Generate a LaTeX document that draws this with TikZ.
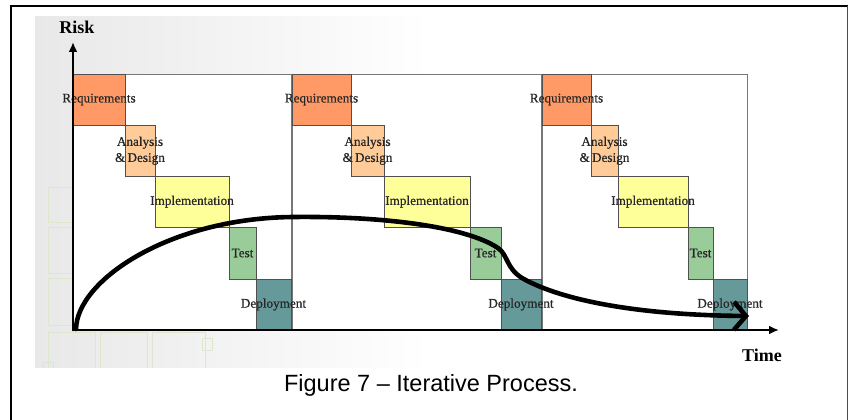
\documentclass[tikz,border=0pt]{standalone}
\usepackage{fontspec}
\setmainfont{Liberation Serif}
\newfontfamily\capfont{Liberation Sans}
\newfontfamily\labfont[FakeBold=0.5]{Liberation Serif}
\usetikzlibrary{arrows.meta}

\definecolor{reqcol}{HTML}{FF9966}
\definecolor{anacol}{HTML}{FFCC99}
\definecolor{impcol}{HTML}{FFFF99}
\definecolor{testcol}{HTML}{99CC99}
\definecolor{depcol}{HTML}{669999}
\definecolor{edgecol}{HTML}{505050}
\definecolor{itercol}{HTML}{777777}
\definecolor{gridcol}{HTML}{DDE7CE}

% one phase rectangle: name, x1, x2, y1, y2, fill colour
\newcommand\phasebox[6]{%
  \node[phase, fill=#6, minimum width={(#3-#2)*1pt}, minimum height={(#5-#4)*1pt}]
    (#1) at ({(#2+#3)/2},{(#4+#5)/2}) {};}
% one iteration frame: name, x1, x2
\newcommand\iterbox[3]{%
  \node[iterframe, minimum width={(#3-#2)*1pt}, minimum height=256pt]
    (#1) at ({(#2+#3)/2},202) {};}

\begin{document}
\begin{tikzpicture}[x=1pt, y=-1pt,
  phase/.style={draw=edgecol, line width=0.7pt, inner sep=0pt, outer sep=0pt},
  iterframe/.style={draw=itercol, fill=white, line width=0.8pt, inner sep=0pt, outer sep=0pt},
  lab/.style={font=\labfont\fontsize{13.2}{16}\selectfont, text=black!85, inner sep=0pt, align=center},
  axislabel/.style={font=\fontsize{18}{20}\selectfont\bfseries, inner sep=0pt},
  axis/.style={line width=2.2pt, -{Latex[length=10pt,width=9pt]}},
  riskcurve/.style={line width=4.6pt, line cap=round, line join=round,
    -{Straight Barb[length=12pt,width=28pt,line width=4.6pt]}},
  grid/.style={draw=gridcol, line width=0.6pt}]

\useasboundingbox (0,0) rectangle (852,420);

% faded photo backdrop
\shade[left color=black!9, right color=white] (35,17) rectangle (430,367);
\begin{scope}
  \clip (35,17) rectangle (400,367);
  \draw[grid] (48,187) rectangle (95,222);
  \draw[grid] (48,227) rectangle (95,273);
  \draw[grid] (100,227) rectangle (147,273);
  \draw[grid] (77,224) rectangle (88,234);
  \draw[grid] (48,278) rectangle (95,325);
  \draw[grid] (92,310) rectangle (103,320);
  \draw[grid] (48,332) rectangle (95,372);
  \draw[grid] (100,332) rectangle (147,372);
  \draw[grid] (152,332) rectangle (205,372);
  \draw[grid] (202,338) rectangle (212,350);
  \draw[grid] (43,362) rectangle (53,372);
\end{scope}

% page frame
\draw[line width=1.4pt] (11,421) -- (11,6.5);
\draw[line width=2pt] (10.3,6.5) -- (847.5,6.5);
\draw[line width=1pt, black!70] (847,6.5) -- (847,421);

% iteration frames
\iterbox{it1}{73}{291}
\iterbox{it2}{292}{541}
\iterbox{it3}{542}{747}

% iteration 1
\phasebox{req1}{73}{125}{74}{125}{reqcol}
\phasebox{ana1}{125}{155}{125}{176.5}{anacol}
\phasebox{imp1}{155}{229}{176.5}{227}{impcol}
\phasebox{tst1}{229}{256}{227}{279}{testcol}
\phasebox{dep1}{256}{291}{279}{330}{depcol}
% iteration 2
\phasebox{req2}{292}{351}{74}{125}{reqcol}
\phasebox{ana2}{351}{384}{125}{176.5}{anacol}
\phasebox{imp2}{384}{470}{176.5}{227}{impcol}
\phasebox{tst2}{470}{501}{227}{279}{testcol}
\phasebox{dep2}{501}{541}{279}{330}{depcol}
% iteration 3
\phasebox{req3}{542}{591}{74}{125}{reqcol}
\phasebox{ana3}{591}{618}{125}{176.5}{anacol}
\phasebox{imp3}{618}{688}{176.5}{227}{impcol}
\phasebox{tst3}{688}{713}{227}{279}{testcol}
\phasebox{dep3}{713}{747}{279}{330}{depcol}

% phase labels
\foreach \i in {1,2,3} {
  \node[lab] (lreq\i) at (req\i) {Requirements};
  \node[lab] (lana\i) at (ana\i) {Analysis\\\&\,Design};
  \node[lab] (limp\i) at (imp\i) {Implementation};
  \node[lab] (ltst\i) at (tst\i) {Test};
  \node[lab] (ldep\i) at (dep\i) {Deployment};
}

% axes
\coordinate (orig) at (73,330);
\coordinate (ytop) at (73,42);
\coordinate (xend) at (779,330);
\draw[axis] ([yshift=-1.1pt]orig) -- (ytop);
\draw[axis] ([xshift=-1.1pt]orig) -- (xend);
\node[axislabel] (risk) at (77,27) {Risk};
\node[axislabel] (time) at (762,355) {Time};

% risk curve: steep rise, long plateau, drop-off towards the last release
\coordinate (cstart) at (76,329);
\coordinate (cpeak) at (293,217);
\coordinate (cbend) at (498,248);
\coordinate (ckink) at (522,278);
\coordinate (cend) at (749,316);
\draw[riskcurve] (cstart) .. controls (77,280) and (170,218) .. (cpeak)
  .. controls (380,216) and (465,226) .. (cbend)
  .. controls (508,255) and (506,268) .. (ckink)
  .. controls (555,297) and (625,315) .. (cend);

% caption
\node[font=\capfont\fontsize{23.5}{26}\selectfont, inner sep=0pt] (caption) at (431,385)
  {Figure 7 – Iterative Process.};
\end{tikzpicture}
\end{document}
